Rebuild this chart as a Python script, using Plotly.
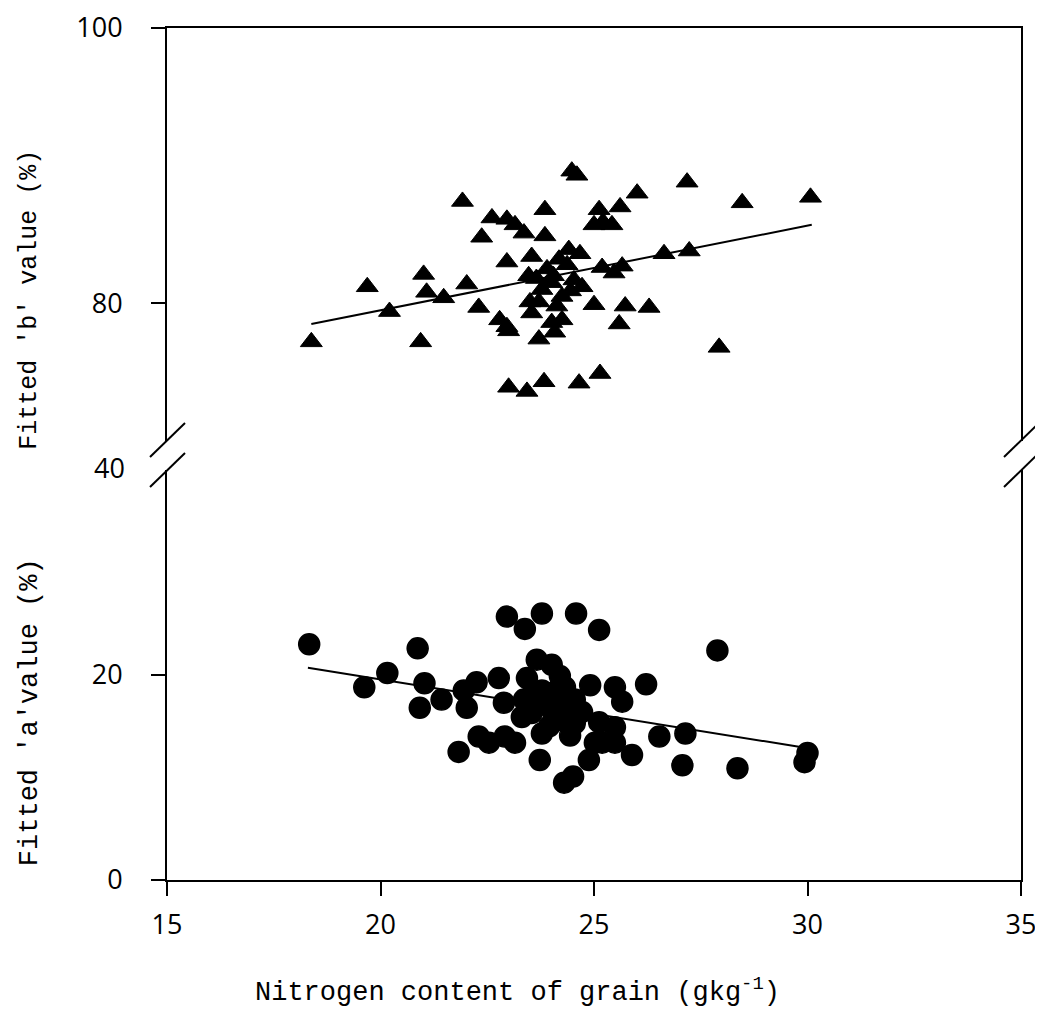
import plotly.graph_objects as go

# ---- data ----
# Upper panel: fitted 'b' value (%) vs grain nitrogen (g/kg)
b_n = [18.38, 19.69, 20.21, 21.01, 21.08, 21.48, 20.94, 21.92, 22.02, 22.30,
       22.37, 22.61, 22.96, 23.15, 23.36, 23.85, 23.85, 22.96, 22.79, 23.00,
       23.54, 23.47, 23.71, 23.00, 23.43, 23.83, 24.65, 25.14, 24.48, 24.60,
       27.18, 26.01, 28.47, 30.07, 25.12, 25.61, 25.00, 25.21, 25.42, 24.18,
       24.41, 24.67, 25.19, 25.47, 25.66, 26.64, 27.23, 24.01, 24.53, 24.72,
       23.71, 24.13, 25.00, 25.73, 26.29, 25.59, 23.54, 24.01, 22.96, 24.08,
       27.93, 24.25, 23.78, 23.50, 23.90, 24.37, 24.25, 24.05, 23.65, 24.45]
b_val = [77.2, 81.2, 79.4, 82.1, 80.8, 80.4, 77.2, 87.4, 81.4, 79.7,
         84.8, 86.2, 86.1, 85.7, 85.1, 86.8, 84.9, 83.0, 78.8, 78.0,
         83.4, 82.0, 77.4, 73.9, 73.6, 74.3, 74.2, 74.9, 89.6, 89.3,
         88.8, 88.0, 87.3, 87.7, 86.8, 87.0, 85.7, 85.9, 85.7, 83.2,
         83.9, 83.6, 82.6, 82.2, 82.7, 83.6, 83.8, 81.5, 81.7, 81.2,
         80.1, 79.8, 79.9, 79.8, 79.7, 78.5, 79.3, 78.6, 78.3, 77.9,
         76.8, 80.5, 81.0, 80.1, 82.5, 82.8, 78.8, 82.0, 81.8, 80.9]

# Lower panel: fitted 'a' value (%) vs grain nitrogen (g/kg)
a_n = [18.33, 19.62, 20.16, 20.87, 21.03, 20.92, 21.43, 21.95, 22.02, 21.83,
       22.30, 22.25, 22.77, 22.89, 22.54, 22.96, 23.38, 23.78, 24.58, 25.12,
       23.73, 24.30, 24.51, 23.15, 22.91, 23.66, 24.01, 23.43, 23.36, 23.78,
       24.32, 24.55, 24.91, 25.49, 25.66, 26.22, 24.01, 23.54, 23.31, 24.55,
       25.12, 25.49, 23.78, 24.44, 25.02, 25.49, 25.89, 24.88, 26.53, 27.14,
       27.07, 28.36, 27.89, 30.00, 29.93, 23.90, 24.13, 23.54, 24.25, 24.72,
       25.19, 24.20, 23.95, 24.40]
a_val = [23.0, 18.8, 20.2, 22.6, 19.2, 16.8, 17.6, 18.5, 16.8, 12.5,
         14.0, 19.3, 19.7, 17.3, 13.4, 25.7, 24.5, 26.0, 26.0, 24.4,
         11.7, 9.5, 10.1, 13.4, 14.0, 21.5, 21.0, 19.7, 17.6, 18.5,
         18.8, 17.6, 19.0, 18.8, 17.4, 19.1, 16.6, 16.3, 15.9, 15.3,
         15.4, 14.9, 14.3, 14.1, 13.4, 13.4, 12.2, 11.7, 14.0, 14.3,
         11.2, 10.9, 22.4, 12.4, 11.5, 17.6, 18.5, 18.0, 15.6, 16.4,
         13.4, 19.9, 15.0, 17.0]

# Fitted regression lines (end points)
fit_b_n = [18.38, 30.1]
fit_b = [78.5, 85.7]
fit_a_n = [18.3, 29.8]
fit_a = [20.7, 13.0]

x_ticks = [15, 20, 25, 30, 35]
b_ticks = [80, 100]
a_ticks = [0, 20]

TICK_FONT = dict(family="Open Sans", size=27, color="black")
MONO = "Liberation Mono"

fig = go.Figure()

fig.add_trace(go.Scatter(
    x=b_n, y=b_val, mode="markers", xaxis="x2", yaxis="y2",
    marker=dict(symbol="triangle-up", size=19, color="black",
                line=dict(color="black", width=1)),
    showlegend=False))
fig.add_trace(go.Scatter(
    x=fit_b_n, y=fit_b, mode="lines", xaxis="x2", yaxis="y2",
    line=dict(color="black", width=2), showlegend=False))

fig.add_trace(go.Scatter(
    x=a_n, y=a_val, mode="markers", xaxis="x", yaxis="y",
    marker=dict(symbol="circle", size=21, color="black",
                line=dict(color="black", width=1.5)),
    showlegend=False))
fig.add_trace(go.Scatter(
    x=fit_a_n, y=fit_a, mode="lines", xaxis="x", yaxis="y",
    line=dict(color="black", width=2), showlegend=False))

axis_common = dict(showgrid=False, zeroline=False, showline=True,
                   linecolor="black", linewidth=2, automargin=False,
                   tickcolor="black", tickwidth=2, ticklen=14,
                   tickfont=TICK_FONT, ticklabeloverflow="allow")

fig.update_layout(
    width=1027, height=999,
    margin=dict(l=159, r=14, t=20, b=127, autoexpand=False),
    paper_bgcolor="white", plot_bgcolor="white",
    xaxis=dict(axis_common, range=[15, 35], domain=[0, 1], anchor="y",
               tickvals=x_ticks, ticks="outside", mirror=False,
               ticklabelstandoff=6),
    xaxis2=dict(axis_common, range=[15, 35], domain=[0, 1], anchor="y2",
                matches="x", side="top", ticks="", showticklabels=False,
                mirror=False),
    yaxis=dict(axis_common, range=[0, 40], domain=[0, 0.4812], anchor="x",
               tickvals=a_ticks, ticks="outside", mirror=True,
               ticklabelstandoff=23),
    yaxis2=dict(axis_common, range=[70, 100], domain=[0.5153, 1.0],
                anchor="x2", tickvals=b_ticks, ticks="outside", mirror=True,
                ticklabelstandoff=23),
)

# "40" label at the top of the lower panel (no tick mark there)
fig.add_annotation(x=0, y=40, xref="x domain", yref="y", text="40",
                   showarrow=False, xanchor="right", yanchor="middle",
                   xshift=-40, yshift=3, font=TICK_FONT)

# axis titles
fig.add_annotation(x=-0.1604, y=0.681, xref="paper", yref="paper",
                   text="Fitted 'b' value (%)", textangle=-90,
                   showarrow=False, xanchor="center", yanchor="middle",
                   font=dict(family=MONO, size=25, color="black"))
fig.add_annotation(x=-0.1604, y=0.197, xref="paper", yref="paper",
                   text="Fitted 'a'value (%)", textangle=-90,
                   showarrow=False, xanchor="center", yanchor="middle",
                   font=dict(family=MONO, size=27, color="black"))
fig.add_annotation(x=0.41, y=-0.1295, xref="paper", yref="paper",
                   text="Nitrogen content of grain (gkg<sup>-1</sup>)",
                   showarrow=False, xanchor="center", yanchor="middle",
                   font=dict(family=MONO, size=27, color="black"))

# axis-break marks on both vertical axes
for x0, x1 in [(-0.0199, 0.0211), (0.9801, 1.0211)]:
    for y0, y1 in [(0.4965, 0.5364), (0.4613, 0.5012)]:
        fig.add_shape(type="line", xref="paper", yref="paper",
                      x0=x0, y0=y0, x1=x1, y1=y1,
                      line=dict(color="black", width=2))

fig.write_html("out.html")
